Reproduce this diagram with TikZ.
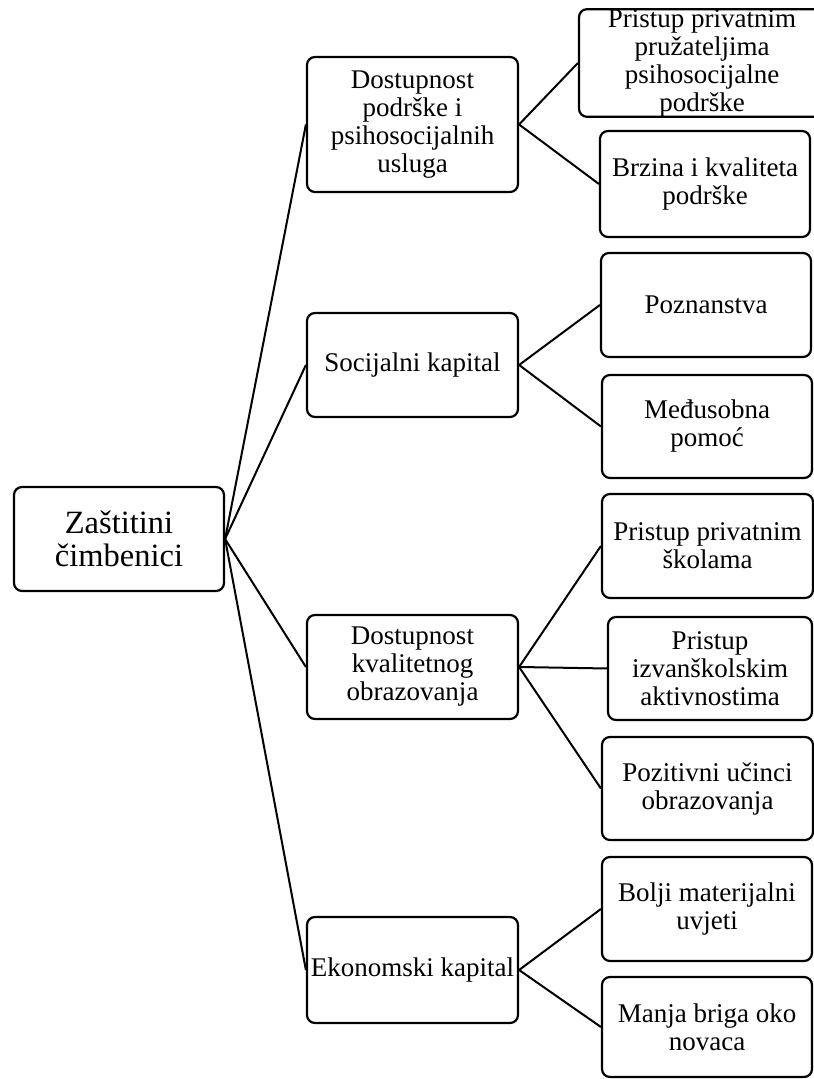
\documentclass[tikz,border=0pt]{standalone}
\usepackage{fontspec}
\setmainfont{Liberation Serif}
\begin{document}
\begin{tikzpicture}[line join=round,
  box/.style={draw,rounded corners=8bp,line width=2.2bp,inner sep=0pt,align=center,
    font=\fontsize{27bp}{28bp}\selectfont,minimum width=211bp,minimum height=104bp},
  rootbox/.style={box,font=\fontsize{32.5bp}{33bp}\selectfont},
  link/.style={black,line width=2bp},
]
\useasboundingbox (0bp,0bp) rectangle (814bp,1079bp);
%%
\node (node_0) at (119bp,540bp) [rootbox,minimum width=210bp] {Zaštitini\\čimbenici};
  \node (node_1) at (412.5bp,954.5bp) [box,minimum height=135bp] {Dostupnost\\podrške i\\psihosocijalnih\\usluga};
  \node (node_2) at (412.5bp,714bp) [box] {Socijalni kapital};
  \node (node_3) at (412.5bp,412bp) [box] {Dostupnost\\kvalitetnog\\obrazovanja};
  \node (node_4) at (412.5bp,109bp) [box,minimum height=106bp] {Ekonomski kapital};
  \node (node_5) at (702bp,1016bp) [box,minimum width=246bp,minimum height=106bp] {Pristup privatnim\\pružateljima\\psihosocijalne\\podrške};
  \node (node_6) at (705bp,895bp) [box,minimum width=210bp,minimum height=106bp] {Brzina i kvaliteta\\podrške};
  \node (node_7) at (706bp,774bp) [box,minimum width=210bp] {Poznanstva};
  \node (node_8) at (707bp,652.5bp) [box,minimum width=210bp,minimum height=103bp] {Međusobna\\pomoć};
  \node (node_9) at (707.5bp,533bp) [box] {Pristup privatnim\\školama};
  \node (node_10) at (710bp,410.5bp) [box,minimum width=204bp,minimum height=103bp] {Pristup\\izvanškolskim\\aktivnostima};
  \node (node_11) at (707.5bp,290.5bp) [box,minimum height=103bp] {Pozitivni učinci\\obrazovanja};
  \node (node_12) at (707bp,170bp) [box,minimum width=210bp] {Bolji materijalni\\uvjeti};
  \node (node_13) at (707bp,52bp) [box,minimum width=210bp,minimum height=100bp] {Manja briga oko\\novaca};
%
  \draw [link] (node_0.east) -- (node_1.west);
  \draw [link] (node_0.east) -- (node_2.west);
  \draw [link] (node_0.east) -- (node_3.west);
  \draw [link] (node_0.east) -- (node_4.west);
  \draw [link] (node_1.east) -- (node_5.west);
  \draw [link] (node_1.east) -- (node_6.west);
  \draw [link] (node_2.east) -- (node_7.west);
  \draw [link] (node_2.east) -- (node_8.west);
  \draw [link] (node_3.east) -- (node_9.west);
  \draw [link] (node_3.east) -- (node_10.west);
  \draw [link] (node_3.east) -- (node_11.west);
  \draw [link] (node_4.east) -- (node_12.west);
  \draw [link] (node_4.east) -- (node_13.west);
%
\end{tikzpicture}
\end{document}
